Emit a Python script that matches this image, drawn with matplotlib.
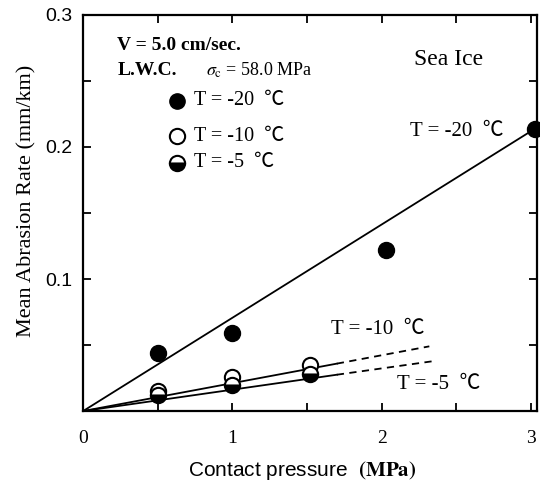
import numpy as np
import matplotlib
matplotlib.use("Agg")
import matplotlib.pyplot as plt

plt.rcParams["mathtext.fontset"] = "stix"

# data
p20 = [0.5, 1.0, 2.03, 3.03]
r20 = [0.044, 0.059, 0.122, 0.214]
p10 = [0.5, 1.0, 1.52]
r10 = [0.015, 0.026, 0.035]
p5 = [0.5, 1.0, 1.52]
r5 = [0.012, 0.020, 0.028]

# fitted lines (origin -> end), solid part then dashed extrapolation
fit20_x = [0.0, 3.03]
fit20_y = [0.0, 0.214]
fit10_x = [0.0, 1.7, 2.32]
fit10_y = [0.0, 0.0359, 0.049]
fit5_x = [0.0, 1.7, 2.36]
fit5_y = [0.0, 0.0275, 0.038]

serif = ["Liberation Serif", "Noto Sans CJK SC"]
sans = "Liberation Sans"

fig = plt.figure(figsize=(5.4, 4.83), dpi=100)
ax = fig.add_axes([0.154, 0.149, 0.840, 0.820])

ax.plot(fit20_x, fit20_y, color="black", lw=1.3)
ax.plot(fit10_x[:2], fit10_y[:2], color="black", lw=1.3)
ax.plot(fit10_x[1:], fit10_y[1:], color="black", lw=1.3, ls=(0, (4, 3)))
ax.plot(fit5_x[:2], fit5_y[:2], color="black", lw=1.3)
ax.plot(fit5_x[1:], fit5_y[1:], color="black", lw=1.3, ls=(0, (4, 3)))

ax.plot(p20, r20, "o", ms=11.5, color="black", clip_on=False, zorder=5)
ax.plot(p10, r10, "o", ms=11, mfc="white", mec="black", mew=1.5, zorder=5)
ax.plot(p5, r5, "o", ms=11, mfc="black", mfcalt="white", fillstyle="bottom",
        mec="black", mew=1.5, zorder=5)

ax.set_xlim(0, 3.04)
ax.set_ylim(0, 0.3)
ax.set_xticks([0, 1, 2, 3])
ax.set_xticks([0.5, 1.5, 2.5], minor=True)
ax.set_yticks([0.1, 0.2, 0.3])
ax.set_yticks([0.05, 0.15, 0.25], minor=True)
ax.set_xticklabels(["0", "1", "2", "3"], fontfamily=serif, fontsize=14)
ax.set_yticklabels(["0.1", "0.2", "0.3"], fontfamily=sans, fontsize=14)
ax.tick_params(which="both", direction="in", length=6, width=1.3,
               top=True, right=True)
ax.tick_params(axis="x", pad=14)
ax.tick_params(axis="y", pad=8)
for s in ax.spines.values():
    s.set_linewidth(1.6)

ax.set_xlabel(r"Contact pressure  $\mathbf{(MPa)}$", fontfamily=sans, fontsize=15)
ax.xaxis.set_label_coords(0.483, -0.12)
ax.set_ylabel("Mean Abrasion Rate (mm/km)", fontfamily=serif, fontsize=16)
ax.yaxis.set_label_coords(-0.102, 0.53)

# annotations
ax.text(0.23, 0.277, "V = 5.0 cm/sec.", fontfamily=serif, fontsize=14,
        fontweight="bold", va="center")
ax.text(0.23, 0.258, "L.W.C.", fontfamily=serif, fontsize=14,
        fontweight="bold", va="center")
ax.text(0.82, 0.258, r"$\sigma_{\rm c}$ = 58.0 MPa", fontfamily=serif,
        fontsize=13, va="center")
ax.text(2.22, 0.266, "Sea Ice", fontfamily=serif, fontsize=17, va="center")

leg_y = [0.235, 0.208, 0.188]
ax.plot(0.63, leg_y[0], "o", ms=11, color="black")
ax.plot(0.63, leg_y[1], "o", ms=11, mfc="white", mec="black", mew=1.5)
ax.plot(0.63, leg_y[2], "o", ms=11, mfc="black", mfcalt="white",
        fillstyle="bottom", mec="black", mew=1.5)
ax.text(0.74, leg_y[0], "T = -20  ℃", fontfamily=serif, fontsize=14.5, va="center")
ax.text(0.74, leg_y[1], "T = -10  ℃", fontfamily=serif, fontsize=14.5, va="center")
ax.text(0.74, leg_y[2], "T = -5  ℃", fontfamily=serif, fontsize=14.5, va="center")

ax.text(2.19, 0.212, "T = -20  ℃", fontfamily=serif, fontsize=15, va="center")
ax.text(1.66, 0.062, "T = -10  ℃", fontfamily=serif, fontsize=15, va="center")
ax.text(2.1, 0.020, "T = -5  ℃", fontfamily=serif, fontsize=15, va="center")

fig.savefig("out.png", dpi=100)
